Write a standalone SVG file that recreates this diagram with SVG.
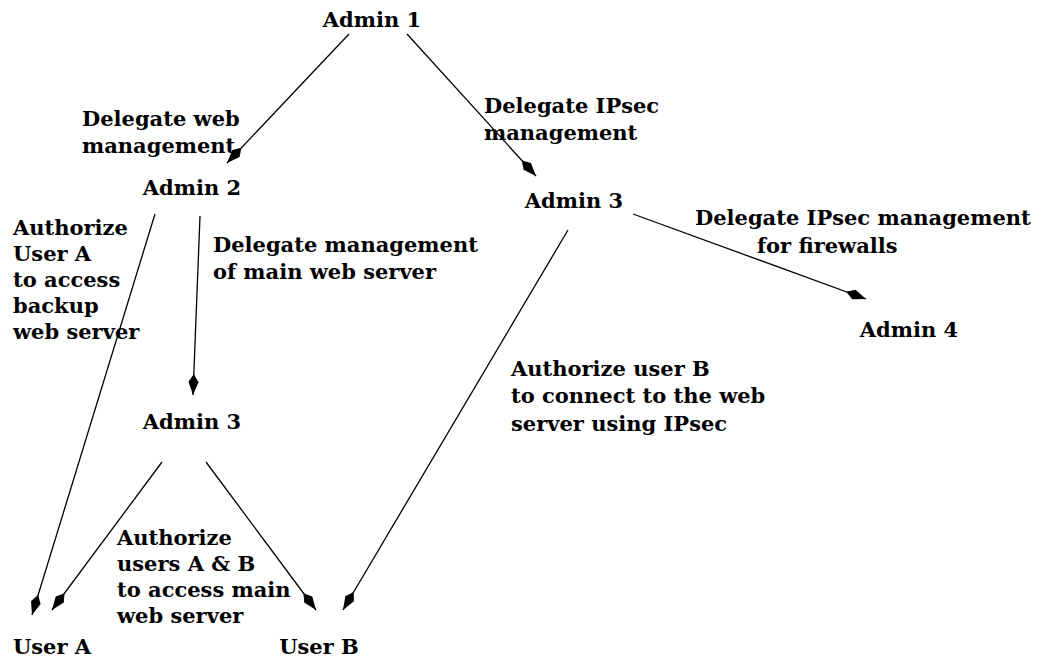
<svg xmlns="http://www.w3.org/2000/svg" width="1044" height="660" viewBox="0 0 1044 660">
  <style>
    text { font-family: "DejaVu Serif", "Liberation Serif", serif; font-weight: bold; font-size: 21px; fill: #000; }
    .edge { stroke: #000; stroke-width: 1.3; fill: none; marker-end: url(#diamond); }
  </style>
  <defs>
    <!-- elongated diamond head, tip at the line end -->
    <marker id="diamond" viewBox="0 0 21 11" refX="21" refY="5.5" markerWidth="21" markerHeight="11" markerUnits="userSpaceOnUse" orient="auto">
      <path d="M0,5.5 L8,0.5 L21,5.5 L8,10.5 Z" fill="#000"/>
    </marker>
  </defs>

  <rect width="1044" height="660" fill="#fff"/>

  <g id="connectors">
    <line class="edge" x1="349" y1="34" x2="227" y2="163"/>
    <line class="edge" x1="407" y1="34" x2="536" y2="176"/>
    <line class="edge" x1="155" y1="214" x2="32" y2="615"/>
    <line class="edge" x1="200" y1="216" x2="193" y2="395"/>
    <line class="edge" x1="162" y1="462" x2="52" y2="610"/>
    <line class="edge" x1="206" y1="462" x2="316" y2="610"/>
    <line class="edge" x1="568" y1="230" x2="343" y2="610"/>
    <line class="edge" x1="633" y1="214" x2="866" y2="299"/>
  </g>

  <g id="admin1"><text x="372" y="27" text-anchor="middle">Admin 1</text></g>
  <g id="admin2"><text x="192" y="195" text-anchor="middle">Admin 2</text></g>
  <g id="admin3-ipsec"><text x="574" y="208" text-anchor="middle">Admin 3</text></g>
  <g id="admin3-web"><text x="192" y="429" text-anchor="middle">Admin 3</text></g>
  <g id="admin4"><text x="909" y="337" text-anchor="middle">Admin 4</text></g>
  <g id="userA"><text x="52" y="654" text-anchor="middle">User A</text></g>
  <g id="userB"><text x="319" y="654" text-anchor="middle">User B</text></g>

  <g id="labels">
    <text x="82" y="126">Delegate  web<tspan x="82" y="153">management</tspan></text>
    <text x="484" y="113">Delegate IPsec<tspan x="484" y="140">management</tspan></text>
    <text x="695" y="225">Delegate IPsec management<tspan x="757" y="253">for firewalls</tspan></text>
    <text x="13" y="235">Authorize<tspan x="13" y="261">User A</tspan><tspan x="13" y="287">to access</tspan><tspan x="13" y="313">backup</tspan><tspan x="13" y="339">web server</tspan></text>
    <text x="213" y="252">Delegate management<tspan x="213" y="279">of main web server</tspan></text>
    <text x="511" y="376">Authorize user B<tspan x="511" y="403">to connect to the web</tspan><tspan x="511" y="431">server using IPsec</tspan></text>
    <text x="117" y="545">Authorize<tspan x="117" y="571">users A &amp; B</tspan><tspan x="117" y="597">to access main</tspan><tspan x="117" y="623">web server</tspan></text>
  </g>
</svg>
